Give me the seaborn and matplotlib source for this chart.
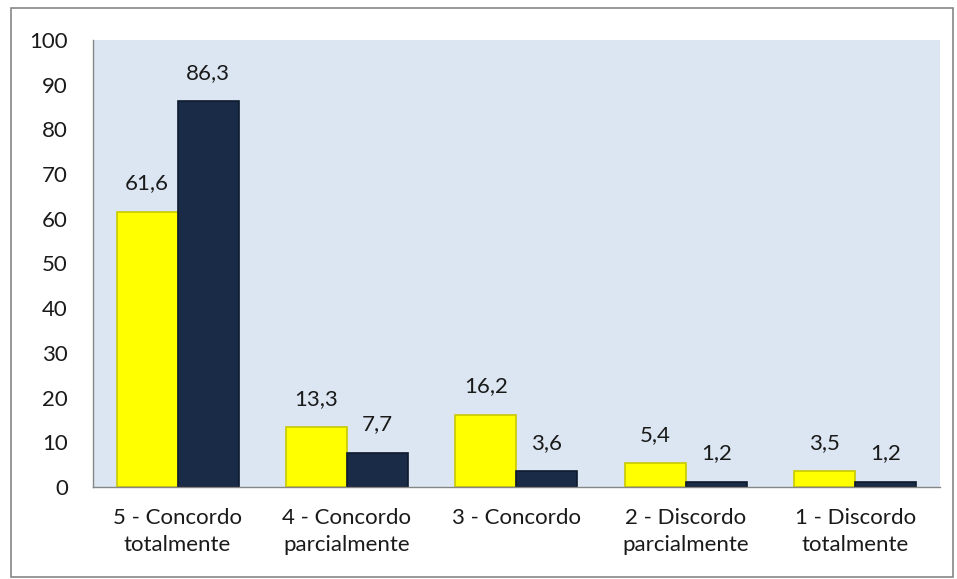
import matplotlib
matplotlib.use("Agg")
import matplotlib.pyplot as plt
import matplotlib.patches as mpatches
import seaborn as sns
import pandas as pd

# Data
categories = ["5 - Concordo\ntotalmente", "4 - Concordo\nparcialmente", "3 - Concordo",
              "2 - Discordo\nparcialmente", "1 - Discordo\ntotalmente"]
series_names = ["Série 1", "Série 2"]
values_s1 = [61.6, 13.3, 16.2, 5.4, 3.5]
values_s2 = [86.3, 7.7, 3.6, 1.2, 1.2]
y_ticks = list(range(0, 101, 10))

colors = ["#ffff00", "#1a2b48"]
edges = ["#c8c800", "#0d1a2e"]

df = pd.DataFrame({
    "categoria": categories * 2,
    "serie": [series_names[0]] * len(categories) + [series_names[1]] * len(categories),
    "valor": values_s1 + values_s2,
})

sns.set_style("white")
plt.rcParams["font.family"] = ["Lato", "DejaVu Sans"]

fig = plt.figure(figsize=(9.57, 5.79), dpi=100)
ax = fig.add_axes([0.097, 0.159, 0.885, 0.772])

sns.barplot(data=df, x="categoria", y="valor", hue="serie", order=categories,
            hue_order=series_names, palette=colors, width=0.72, gap=0,
            saturation=1, ax=ax, legend=False)

for container, ec in zip(ax.containers, edges):
    for bar in container:
        bar.set_edgecolor(ec)
        bar.set_linewidth(1.2)
    labels = [f"{v:.1f}".replace(".", ",") for v in container.datavalues]
    ax.bar_label(container, labels=labels, padding=13, fontsize=16, color="#1a1a1a")

ax.set_facecolor("#dce6f2")
ax.set_ylim(0, 100)
ax.set_xlim(-0.5, len(categories) - 0.5)
ax.set_yticks(y_ticks)
ax.set_xlabel("")
ax.set_ylabel("")

# category boundaries as x ticks
ax.set_xticks([i - 0.5 for i in range(len(categories) + 1)], minor=True)
ax.set_xticks(range(len(categories)))
ax.set_xticklabels(categories, fontsize=16, color="#1a1a1a", linespacing=1.45)
ax.tick_params(axis="x", which="major", length=0, pad=15)
ax.tick_params(axis="x", which="minor", length=6, color="#868686", width=1)
ax.tick_params(axis="y", length=8, color="#868686", width=1, labelsize=16,
               labelcolor="#1a1a1a", pad=10)

for side in ["top", "right"]:
    ax.spines[side].set_visible(False)
for side in ["left", "bottom"]:
    ax.spines[side].set_color("#868686")
    ax.spines[side].set_linewidth(1)

# outer chart border
fig.patches.append(mpatches.Rectangle((0.011, 0.004), 0.985, 0.982, transform=fig.transFigure,
                                      fill=False, edgecolor="#868686", linewidth=1.2))

fig.savefig("out.png", dpi=100)
